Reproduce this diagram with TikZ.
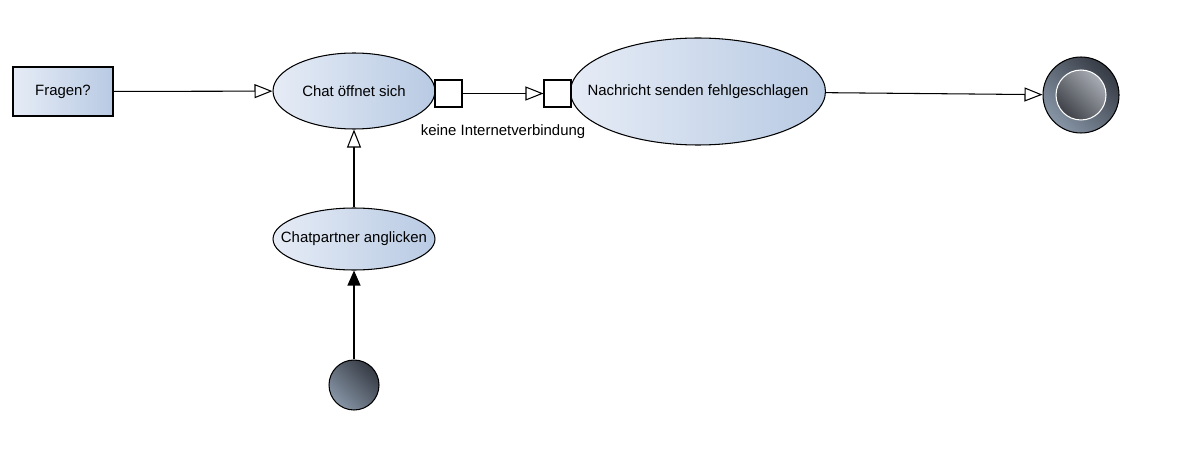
\documentclass[tikz,border=0pt]{standalone}
\usepackage{fontspec}
\setmainfont{Liberation Sans}
\usetikzlibrary{shapes.geometric,arrows.meta}

\definecolor{actlight}{HTML}{E6ECF6}
\definecolor{actdark}{HTML}{B8CAE3}
\definecolor{nodedark}{HTML}{363B44}
\definecolor{nodelight}{HTML}{8795A6}
\definecolor{innerlight}{HTML}{A8ACB4}
\definecolor{innerdark}{HTML}{3E4147}

\begin{document}
\begin{tikzpicture}[x=0.02cm,y=-0.02cm,line width=0.6pt,
  font=\fontsize{8.5}{10}\selectfont,
  action/.style={ellipse,draw,inner sep=0pt,left color=actlight,right color=actdark},
  pinbox/.style={draw,fill=white,minimum size=0.54cm,inner sep=0pt},
  flow/.style={-{Triangle[open,length=0.36cm,width=0.28cm]}},
  startflow/.style={-{Triangle[length=0.3cm,width=0.26cm]}}]

  \useasboundingbox (0,0) rectangle (1179,449);

  \node[draw,left color=actlight,right color=actdark,minimum width=2cm,minimum height=0.98cm,inner sep=0pt] (fragen) at (63,91.5) {Fragen?};

  \node[action,minimum width=3.24cm,minimum height=1.52cm,label={center:Chat öffnet sich}] (chat) at (354,91) {};
  \node[action,minimum width=3.24cm,minimum height=1.24cm,label={center:Chatpartner anglicken}] (partner) at (354,239) {};
  \node[action,minimum width=5.1cm,minimum height=2.14cm,label={center:Nachricht senden fehlgeschlagen}] (nachricht) at (698,91.5) {};

  \node[pinbox] (pinout) at (448.5,93.5) {};
  \node[pinbox] (pinin) at (557.5,93.5) {};
  \node[] (keine) at (503,132) {keine Internetverbindung};

    % start
  \node[circle,draw,minimum size=1cm,inner sep=0pt,left color=nodedark,right color=nodelight,shading angle=-45] (start) at (354,385) {};

    % end
  \node[circle,draw,minimum size=1.52cm,inner sep=0pt,left color=nodedark,right color=nodelight,shading angle=-45] (final) at (1081,95) {};
  \node[circle,draw=white,minimum size=1cm,inner sep=0pt,left color=innerlight,right color=innerdark,shading angle=-45] (finalin) at (final) {};

  \draw[flow] (fragen) -- (chat);
  \draw[flow] (pinout) -- (pinin);
  \draw[flow] (nachricht) -- (final);
  \draw[flow] (partner) -- (chat);
  \draw[startflow] (start) -- (partner);
\end{tikzpicture}
\end{document}
